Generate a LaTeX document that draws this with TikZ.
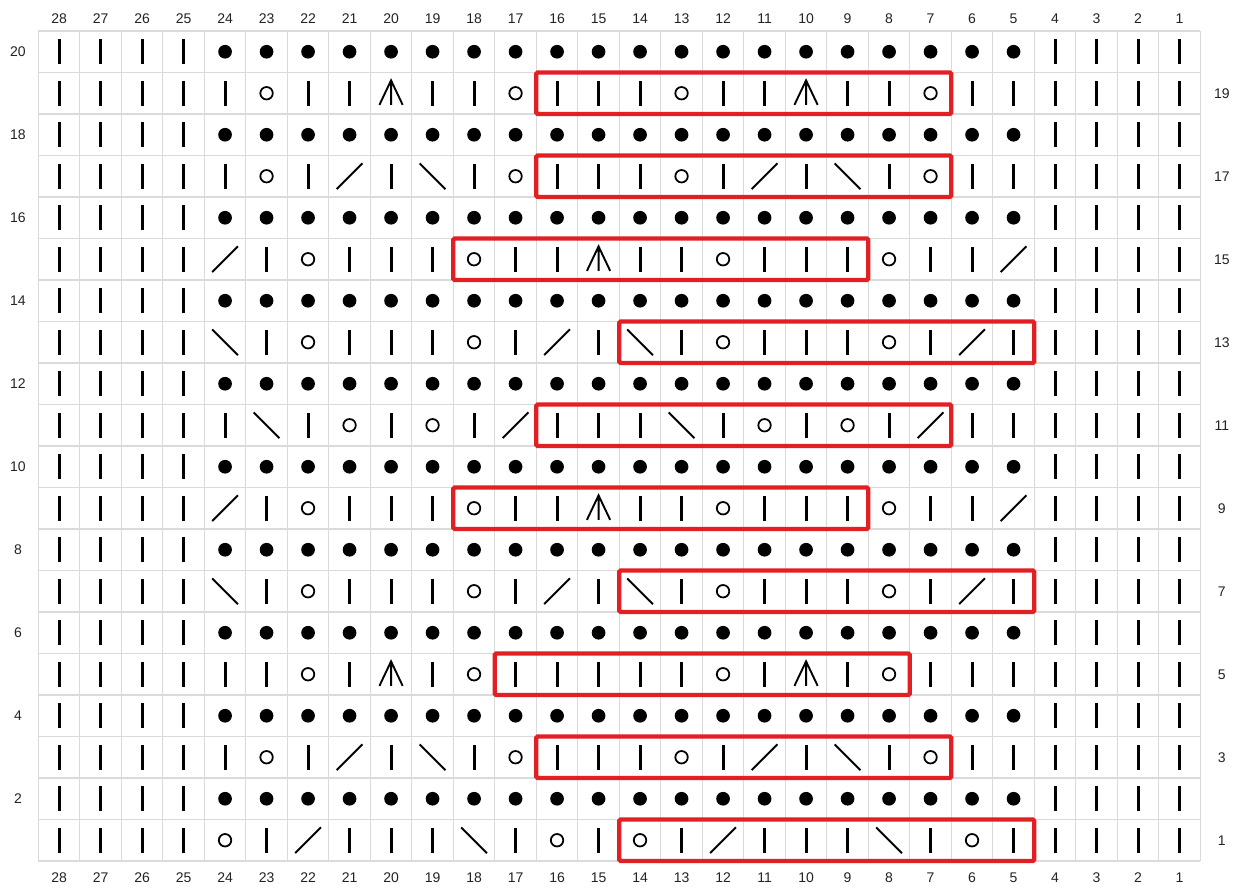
\documentclass[tikz,border=0pt]{standalone}
\usepackage{fontspec}
\setmainfont{Liberation Sans}
\usepackage{xcolor}
\usepackage{tikz}

\definecolor{gridgray}{RGB}{218,218,218}
\definecolor{boxred}{RGB}{226,32,36}
\definecolor{numgray}{RGB}{35,35,35}

\newcommand{\stK}[2]{\draw[knit] (#1,#2) ++(0,-0.3) -- ++(0,0.6);}
\newcommand{\stP}[2]{\fill (#1,#2) circle (0.165);}
\newcommand{\stO}[2]{\draw[yarnover] (#1,#2) circle (0.15);}
\newcommand{\stR}[2]{\draw[dec] (#1,#2) ++(-0.31,-0.31) -- ++(0.62,0.62);}
\newcommand{\stL}[2]{\draw[dec] (#1,#2) ++(-0.31,0.31) -- ++(0.62,-0.62);}
\newcommand{\stA}[2]{\draw[dec] (#1,#2) ++(-0.28,-0.28) -- ++(0.28,0.59) -- ++(0.28,-0.59) (#1,#2) ++(0,-0.28) -- ++(0,0.59);}

\begin{document}
\begin{tikzpicture}[x=1cm, y=1cm, gridline/.style={draw=gridgray, line width=0.7pt}, knit/.style={line width=2.1pt}, dec/.style={line width=1.3pt}, yarnover/.style={line width=1.2pt}, redbox/.style={draw=boxred, line width=3pt, rounded corners=1pt}, num/.style={text=numgray, font=\fontsize{9.6}{11}\selectfont, inner sep=0pt, text height=6.9pt, text depth=0pt}]

\useasboundingbox (-0.923,-0.65) rectangle (29.005,20.747);
\fill[white] (-0.923,-0.65) rectangle (29.005,20.747);

\draw[gridline] (0,0) grid (28,20);

\foreach \r in {1,...,20}
  \foreach \c in {0.5,1.5,2.5,3.5,24.5,25.5,26.5,27.5}
    \stK{\c}{\r-0.5};

\foreach \r in {2,4,...,20}
  \foreach \i in {1,...,20}
    \stP{3.5+\i}{\r-0.5};

\foreach \r/\codes in {
  19/{K,O,K,K,A,K,K,O,K,K,K,O,K,K,A,K,K,O,K,K},
  17/{K,O,K,R,K,L,K,O,K,K,K,O,K,R,K,L,K,O,K,K},
  15/{R,K,O,K,K,K,O,K,K,A,K,K,O,K,K,K,O,K,K,R},
  13/{L,K,O,K,K,K,O,K,R,K,L,K,O,K,K,K,O,K,R,K},
  11/{K,L,K,O,K,O,K,R,K,K,K,L,K,O,K,O,K,R,K,K},
  9/{R,K,O,K,K,K,O,K,K,A,K,K,O,K,K,K,O,K,K,R},
  7/{L,K,O,K,K,K,O,K,R,K,L,K,O,K,K,K,O,K,R,K},
  5/{K,K,O,K,A,K,O,K,K,K,K,K,O,K,A,K,O,K,K,K},
  3/{K,O,K,R,K,L,K,O,K,K,K,O,K,R,K,L,K,O,K,K},
  1/{O,K,R,K,K,K,L,K,O,K,O,K,R,K,K,K,L,K,O,K}}
  \foreach \s [count=\i] in \codes
    \csname st\s\endcsname{3.5+\i}{\r-0.5};

\foreach \r/\a/\b in {19/16/7, 17/16/7, 15/18/9, 13/14/5, 11/16/7, 9/18/9, 7/14/5, 5/17/8, 3/16/7, 1/14/5}
  \draw[redbox] (28-\a,\r-1) rectangle (29-\b,\r);

\foreach \c in {1,...,28} {
  \node[num] (top\c) at (28.5-\c,20.31) {\c};
  \node[num] (bot\c) at (28.5-\c,-0.39) {\c};
}
\foreach \r in {2,4,...,20}
  \node[num] (left\r) at (-0.49,\r-0.5) {\r};
\foreach \r in {1,3,...,19}
  \node[num] (right\r) at (28.52,\r-0.5) {\r};
\end{tikzpicture}
\end{document}
